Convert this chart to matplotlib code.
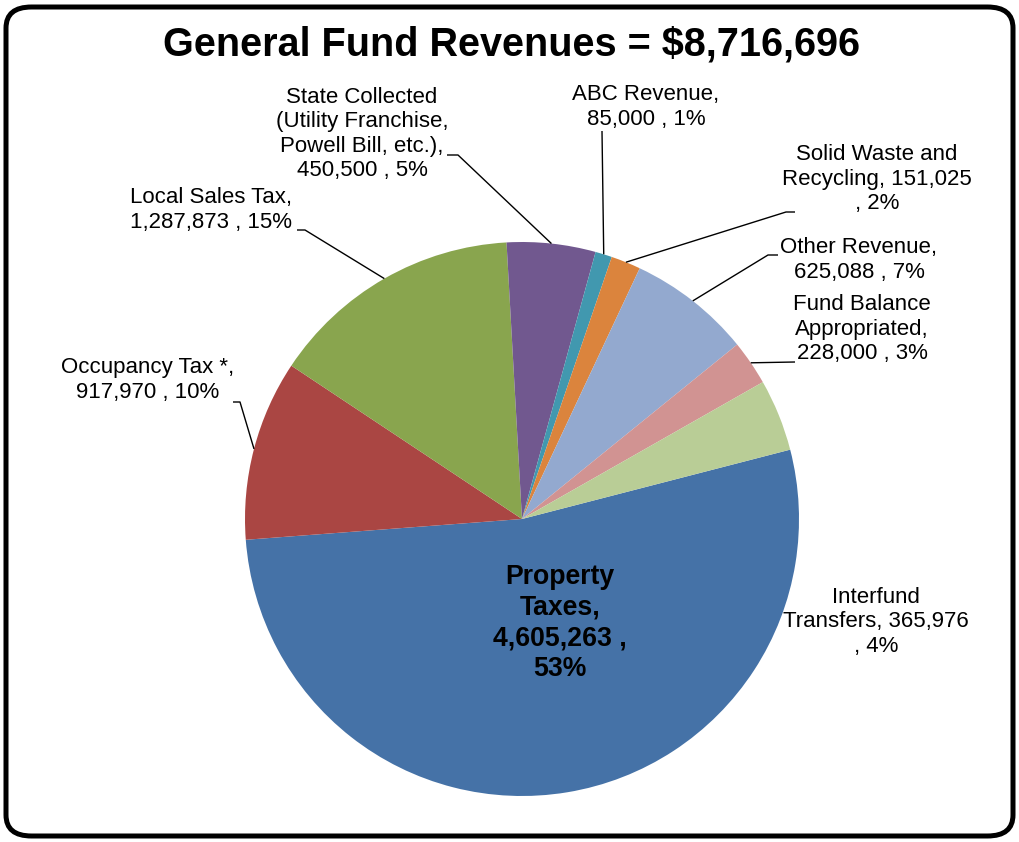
import matplotlib
matplotlib.use('Agg')
import numpy as np
import matplotlib.pyplot as plt
from matplotlib.patches import FancyBboxPatch

plt.rcParams['font.family'] = ['Liberation Sans', 'DejaVu Sans']

# Data (order as in the source sheet)
names = [
    'Property\nTaxes',
    'Occupancy Tax *',
    'Local Sales Tax',
    'State Collected\n(Utility Franchise,\nPowell Bill, etc.)',
    'ABC Revenue',
    'Solid Waste and\nRecycling',
    'Other Revenue',
    'Fund Balance\nAppropriated',
    'Interfund\nTransfers',
]
values = [4605263, 917970, 1287873, 450500, 85000, 151025, 625088, 228000,
          365976]
percents = [53, 10, 15, 5, 1, 2, 7, 3, 4]
colors = ['#4572A7', '#AA4643', '#89A54E', '#71588F', '#4198AF', '#DB843D',
          '#93A9CF', '#D19392', '#B9CD96']
title = 'General Fund Revenues = $8,716,696'

# How each label wraps: {n} name, {v} value, {p} percent
wraps = [
    '{n},\n{v} ,\n{p}%',
    '{n},\n{v} , {p}%',
    '{n},\n{v} , {p}%',
    '{n},\n{v} , {p}%',
    '{n},\n{v} , {p}%',
    '{n}, {v}\n, {p}%',
    '{n},\n{v} , {p}%',
    '{n},\n{v} , {p}%',
    '{n}, {v}\n, {p}%',
]

# Layout, in picture pixels (y from top)
W, H = 1019, 842
cx, cy, R = 522, 519, 277
label_pos = [(560, 623), (148, 380), (211, 210), (362, 134), (646, 107),
             (877, 179), (859, 260), (862, 329), (876, 622)]
# elbow of the leader line (None = no leader line)
elbows = [None, [(233, 402), (240, 402)], [(297, 230), (305, 230)],
          [(447, 155), (458, 155)], [(602, 131)], [(795, 212), (786, 212)],
          [(778, 255), (768, 255)], [(795, 362)], None]


def Y(y):
    return H - y


fig = plt.figure(figsize=(W / 100, H / 100), dpi=100)
ax = fig.add_axes([0, 0, 1, 1])

ax.pie(values, colors=colors, startangle=14.5, counterclock=False,
       center=(cx, Y(cy)), radius=R, wedgeprops=dict(linewidth=0))
ax.set_xlim(0, W)
ax.set_ylim(0, H)
ax.set_aspect('equal')
ax.axis('off')

# Labels and leader lines
total = float(sum(values))
angles = 14.5 - 360 * (np.cumsum(values) - np.array(values) / 2) / total
for i in range(len(values)):
    text = wraps[i].format(n=names[i], v='{:,}'.format(values[i]),
                           p=percents[i])
    x, y = label_pos[i]
    if i == 0:
        ax.text(x, Y(y), text, ha='center', va='center', ma='center',
                fontsize=19.2, fontweight='bold', linespacing=1.22)
        continue
    ax.text(x, Y(y), text, ha='center', va='center', ma='center',
            fontsize=16, linespacing=1.2)
    if elbows[i] is None:
        continue
    a = np.radians(angles[i])
    ex, ey = cx + R * np.cos(a), Y(cy) + R * np.sin(a)
    xs = [p[0] for p in elbows[i]] + [ex]
    ys = [Y(p[1]) for p in elbows[i]] + [ey]
    ax.plot(xs, ys, color='black', lw=1.0, solid_capstyle='butt')

ax.text(512, Y(45), title, ha='center', va='center', fontsize=28.5,
        fontweight='bold')

# Rounded border
border = FancyBboxPatch((6 / W, 6 / H), (W - 12) / W, (H - 13) / H,
                        boxstyle='round,pad=0,rounding_size=0.025',
                        transform=fig.transFigure, fill=False,
                        edgecolor='black', linewidth=3.6)
fig.patches.append(border)

fig.savefig('out.png', dpi=100)
